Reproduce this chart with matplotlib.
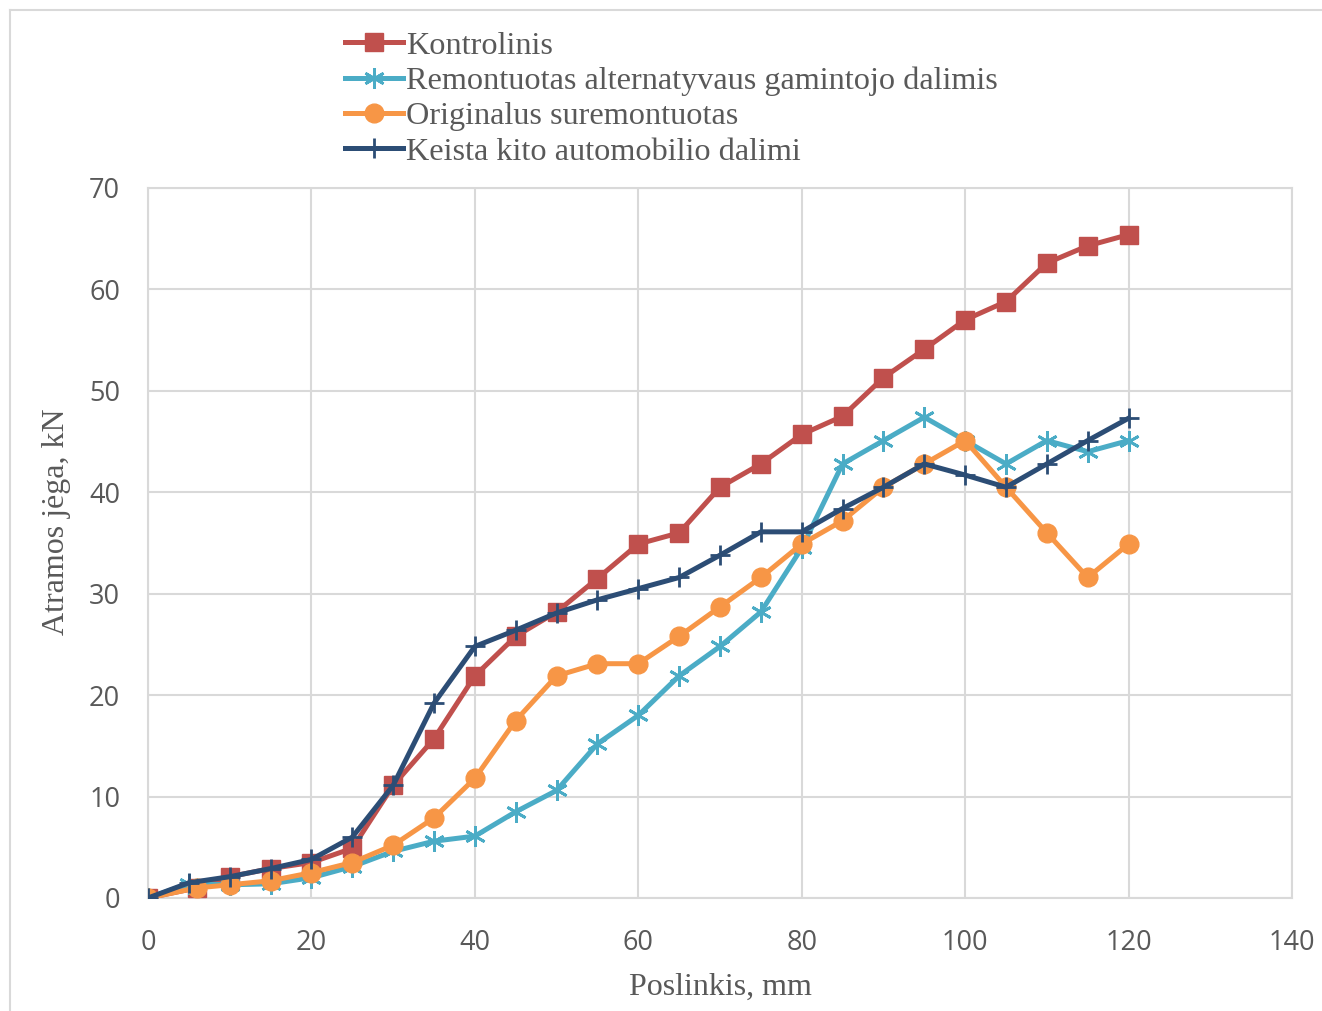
import matplotlib
matplotlib.use("Agg")
import matplotlib.pyplot as plt
from matplotlib.lines import Line2D

# duomenys
x_kontr = [0, 6, 10, 15, 20, 25, 30, 35, 40, 45, 50, 55, 60, 65, 70, 75, 80, 85, 90, 95, 100, 105, 110, 115, 120]
y_kontr = [0, 1.0, 2.1, 2.9, 3.5, 4.9, 11.1, 15.7, 21.9, 25.8, 28.2, 31.5, 34.9, 36.0, 40.5, 42.8,
           45.7, 47.5, 51.3, 54.1, 57.0, 58.8, 62.6, 64.3, 65.4]

x_remont = [0, 5, 10, 15, 20, 25, 30, 35, 40, 45, 50, 55, 60, 65, 70, 75, 80, 85, 90, 95, 100, 105, 110, 115, 120]
y_remont = [0, 1.4, 1.3, 1.4, 2.0, 3.1, 4.6, 5.6, 6.1, 8.5, 10.6, 15.2, 18.0, 21.9, 24.8, 28.2,
            34.5, 42.8, 45.1, 47.4, 45.1, 42.8, 45.1, 44.0, 45.1]

x_orig = [0, 6, 10, 15, 20, 25, 30, 35, 40, 45, 50, 55, 60, 65, 70, 75, 80, 85, 90, 95, 100, 105, 110, 115, 120]
y_orig = [0, 1.0, 1.3, 1.7, 2.5, 3.5, 5.2, 7.9, 11.8, 17.5, 21.9, 23.1, 23.1, 25.8, 28.7, 31.6,
          34.9, 37.2, 40.5, 42.8, 45.1, 40.5, 36.0, 31.6, 34.9]

x_keista = [0, 5, 10, 15, 20, 25, 30, 35, 40, 45, 50, 55, 60, 65, 70, 75, 80, 85, 90, 95, 100, 105, 110, 115, 120]
y_keista = [0, 1.5, 2.1, 2.9, 3.8, 6.0, 11.1, 19.2, 24.8, 26.4, 28.1, 29.4, 30.5, 31.6, 33.8, 36.1,
            36.1, 38.4, 40.5, 42.8, 41.7, 40.5, 42.8, 45.1, 47.3]

labels = ["Kontrolinis", "Remontuotas alternatyvaus gamintojo dalimis",
          "Originalus suremontuotas", "Keista kito automobilio dalimi"]

serif = ["Liberation Serif", "DejaVu Serif"]
grey_txt = "#595959"
grid_c = "#d9d9d9"

fig = plt.figure(figsize=(13.22, 10.11), dpi=100)
ax = fig.add_axes([148 / 1322, 113 / 1011, 1144 / 1322, 710 / 1011])

lw = 3.6
ax.plot(x_kontr, y_kontr, color="#C0504D", lw=lw, marker="s", ms=13, zorder=3, label=labels[0])
ax.plot(x_remont, y_remont, color="#4BACC6", lw=lw, marker=(6, 2, 0), ms=15, mew=2.0,
        zorder=4, label=labels[1])
ax.plot(x_orig, y_orig, color="#F79646", lw=lw, marker="o", ms=13.5, zorder=5, label=labels[2])
ax.plot(x_keista, y_keista, color="#2C4D75", lw=lw, marker="+", ms=14, mew=2.0,
        zorder=6, label=labels[3])

ax.set_xlim(0, 140)
ax.set_ylim(0, 70)
ax.set_xticks(range(0, 141, 20))
ax.set_yticks(range(0, 71, 10))
ax.grid(True, color=grid_c, lw=1.5)
ax.set_axisbelow(True)
for s in ax.spines.values():
    s.set_color(grid_c)
    s.set_linewidth(1.5)
ax.tick_params(length=0, labelsize=19.5, labelcolor=grey_txt, pad=20)
ax.tick_params(axis="x", pad=22)
for t in ax.get_xticklabels() + ax.get_yticklabels():
    t.set_fontfamily("Open Sans")

ax.set_xlabel("Poslinkis, mm", fontsize=23, family=serif, color=grey_txt)
ax.xaxis.set_label_coords(0.5, -0.106)
ax.set_ylabel("Atramos jėga, kN", fontsize=23, family=serif, color=grey_txt)
ax.yaxis.set_label_coords(-0.067, 0.53)

leg = fig.legend(loc="upper left", bbox_to_anchor=(345 / 1322, 1 - 31 / 1011),
                 frameon=False, prop={"family": serif, "size": 23.2},
                 handlelength=1.8, handletextpad=0.1, labelspacing=0.18,
                 borderpad=0, borderaxespad=0)
for t in leg.get_texts():
    t.set_color(grey_txt)

# rėmelis aplink diagramą
fig.add_artist(Line2D([9.5 / 1322, 9.5 / 1322], [0, 1 - 10 / 1011], color=grid_c, lw=1.5,
                      transform=fig.transFigure))
fig.add_artist(Line2D([9.5 / 1322, 1], [1 - 10 / 1011, 1 - 10 / 1011], color=grid_c, lw=1.5,
                      transform=fig.transFigure))

fig.savefig("out.png", dpi=100)
